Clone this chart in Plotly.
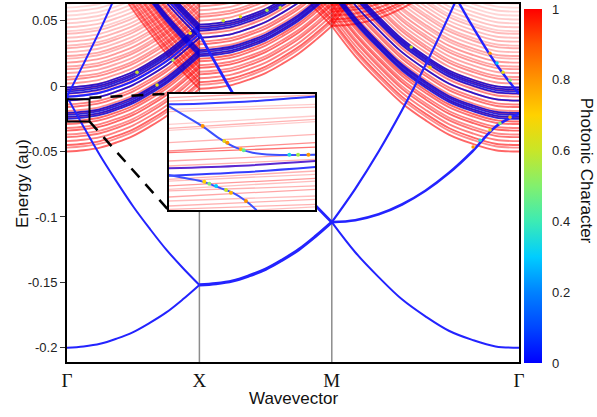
import plotly.graph_objects as go

# ---------------- k-path (Γ=0, X=1, M=2, Γ=2+√2) ----------------
K_TICKS = [0, 1, 2, 3.414]
K_LABELS = ["Γ", "X", "M", "Γ"]
K_GX = [0, 0.125, 0.25, 0.375, 0.5, 0.625, 0.75, 0.875, 1]
K_XM = [1, 1.125, 1.25, 1.375, 1.5, 1.625, 1.75, 1.875, 2]
K_MG = [2, 2.177, 2.354, 2.530, 2.707, 2.884, 3.061, 3.237, 3.414]

# ---------------- electronic bands (au) ----------------
B1_GX = [-0.200, -0.199, -0.197, -0.193, -0.188, -0.181, -0.173, -0.163, -0.152]
B1_XM = [-0.152, -0.151, -0.149, -0.145, -0.140, -0.133, -0.125, -0.115, -0.104]
B1_MG = [-0.104, -0.127, -0.146, -0.163, -0.176, -0.187, -0.194, -0.199, -0.200]
B2_GX = [-0.008, -0.031, -0.053, -0.073, -0.092, -0.109, -0.125, -0.139, -0.152]
B3_GX = [-0.008, 0.017, 0.043, 0.071]
B4_GX = [-0.008, -0.007, -0.005, -0.001, 0.004, 0.011, 0.019, 0.029, 0.040]
B5_GX = [0.067, 0.053, 0.040]
B6_XM = [0.040, 0.017, -0.005, -0.025, -0.044, -0.061, -0.077, -0.091, -0.104]
B8_MG = [-0.104, -0.1025, -0.098, -0.0905, -0.080, -0.0665, -0.050, -0.031, -0.021]
B9_MG = [-0.104, -0.0785, -0.050, -0.0185, 0.016, 0.0535, 0.094]
B10_MG = [0.0775, 0.046, 0.0175, -0.006]

# photon-replica offsets (red) and their opacities
RED_SHIFT = [0.150, 0.153, 0.155, 0.158, 0.161, 0.163, 0.166, 0.168, 0.171, 0.173,
             0.176, 0.179, 0.181, 0.184, 0.186, 0.189, 0.192, 0.194, 0.197, 0.199,
             0.202, 0.205, 0.207, 0.210, 0.213, 0.215, 0.218, 0.221, 0.223, 0.226,
             0.229, 0.231, 0.234, 0.237, 0.240, 0.242, 0.245, 0.248, 0.251, 0.254,
             0.257, 0.260, 0.263]
RED_ALPHA = [0.6, 0.45, 0.6, 0.5, 0.55, 0.45, 0.6, 0.5, 0.55, 0.6,
             0.5, 0.55, 0.45, 0.55, 0.5, 0.45, 0.5, 0.4, 0.5, 0.45,
             0.4, 0.45, 0.4, 0.35, 0.4, 0.35, 0.4, 0.3, 0.35, 0.28,
             0.33, 0.27, 0.3, 0.25, 0.27, 0.2, 0.24, 0.2, 0.2, 0.16,
             0.18, 0.15, 0.13]
# polariton (mostly electronic) replicas inside the photon continuum
BLUE_SHIFT = [0.175, 0.1765, 0.178, 0.1795, 0.189, 0.1945, 0.196, 0.1975, 0.199]

# photonic-character speckles on the main plot
SPK_K = [3.195, 3.248, 3.293, 3.346, 3.067, 3.120, 3.195, 3.270, 3.346,
         0.529, 0.680, 0.800, 0.930, 1.18, 1.31, 1.51, 1.61, 2.742, 2.60]
SPK_E = [0.0252, 0.0176, 0.0107, 0.0046, -0.0466, -0.0413, -0.0336, -0.0283, -0.0237,
         0.0107, 0.0008, 0.020, 0.0405, 0.050, 0.053, 0.058, 0.060, 0.0145, 0.030]
SPK_C = [0.8, 0.3, 0.65, 0.5, 0.8, 0.35, 0.65, 0.5, 0.75,
         0.6, 0.65, 0.55, 0.7, 0.6, 0.65, 0.55, 0.6, 0.7, 0.6]

# ---------------- inset (zoom near Γ) ----------------
INSET_XR = [0.0, 0.17]
INSET_YR = [-0.027, -0.010]
INS_RED_L = [-0.01058, -0.01107, -0.01228, -0.01262, -0.01447, -0.01505, -0.01534, -0.01714,
             -0.01835, -0.01860, -0.01981, -0.02054, -0.02248, -0.02273, -0.02345, -0.02394,
             -0.02418, -0.02506, -0.02564, -0.02637, -0.02685, -0.02760]
INS_RED_R = [-0.00961, -0.01019, -0.01155, -0.01194, -0.01325, -0.01374, -0.01408, -0.01593,
             -0.01714, -0.01780, -0.01884, -0.01957, -0.02127, -0.02175, -0.02234, -0.02273,
             -0.02345, -0.02394, -0.02491, -0.02540, -0.02613, -0.02650]
INS_RED_A = [0.35, 0.3, 0.2, 0.25, 0.2, 0.3, 0.2, 0.3, 0.45, 0.55, 0.35,
             0.3, 0.3, 0.25, 0.4, 0.25, 0.3, 0.35, 0.25, 0.3, 0.3, 0.25]
INS_A_K = [0, 0.0355, 0.0741, 0.1129, 0.1515, 0.17]
INS_A_E = [-0.01155, -0.01146, -0.01126, -0.01097, -0.01058, -0.01039]
INS_B_K = [0, 0.0201, 0.0394, 0.0587, 0.078, 0.0974, 0.1205, 0.17]
INS_B_E = [-0.0118, -0.0133, -0.01476, -0.01651, -0.01787, -0.0186, -0.01889, -0.01889]
INS_C_K = [0, 0.085, 0.17]
INS_C_E = [-0.02088, -0.02049, -0.01981]
INS_D_K = [0, 0.085, 0.17]
INS_D_E = [-0.02195, -0.02146, -0.02069]
INS_E_K = [0, 0.0201, 0.0394, 0.0587, 0.0741, 0.0896, 0.102]
INS_E_E = [-0.02185, -0.02234, -0.02282, -0.0237, -0.02443, -0.02564, -0.0270]
INS_SPK_K = [0.0394, 0.0645, 0.068, 0.0838, 0.087, 0.1399, 0.150, 0.162,
             0.0413, 0.0471, 0.0549, 0.0665, 0.0722, 0.0896]
INS_SPK_E = [-0.01471, -0.0169, -0.01715, -0.01811, -0.01825, -0.01889, -0.01889, -0.01889,
             -0.02282, -0.02311, -0.02345, -0.02404, -0.02443, -0.02564]
INS_SPK_C = [0.8, 0.65, 0.8, 0.75, 0.45, 0.35, 0.55, 0.8,
             0.7, 0.5, 0.3, 0.6, 0.75, 0.8]

COLORSCALE = [[0.0, "rgb(0,0,255)"], [0.1, "rgb(0,70,255)"], [0.2, "rgb(0,130,255)"],
              [0.3, "rgb(0,205,255)"], [0.4, "rgb(60,235,180)"], [0.5, "rgb(130,240,110)"],
              [0.6, "rgb(200,230,40)"], [0.7, "rgb(255,210,0)"], [0.8, "rgb(255,150,0)"],
              [0.9, "rgb(255,85,0)"], [1.0, "rgb(255,0,0)"]]
CB_TICKS = [0, 0.2, 0.4, 0.6, 0.8, 1]
CB_LABELS = ["0", "0.2", "0.4", "0.6", "0.8", "1"]
Y_TICKS = [-0.2, -0.15, -0.1, -0.05, 0, 0.05]
Y_LABELS = ["-0.2", "-0.15", "-0.1", "-0.05", "0", "0.05"]

Y_RANGE = [-0.2109, 0.0628]
X_RANGE = [K_TICKS[0], K_TICKS[-1]]
SANS = "Liberation Sans, Arial, sans-serif"
SERIF = "Liberation Serif, Times New Roman, serif"


def path(segments, shift=0.0):
    xs, ys = [], []
    for ks, es in segments:
        if xs:
            xs.append(None)
            ys.append(None)
        xs.extend(ks)
        ys.extend([e + shift for e in es])
    return xs, ys


REPLICA_SEGS = [(K_GX, B1_GX), (K_XM, B1_XM), (K_MG, B1_MG), (K_GX, B2_GX),
                (K_XM, B6_XM), (K_MG, B8_MG), (K_MG[:len(B9_MG)], B9_MG)]
POLARITON_SEGS = [(K_GX, B1_GX), (K_XM, B1_XM), (K_MG, B1_MG), (K_GX, B2_GX)]

fig = go.Figure()

# photon replicas (red)
for d, a in zip(RED_SHIFT, RED_ALPHA):
    xs, ys = path(REPLICA_SEGS, d)
    fig.add_trace(go.Scatter(x=xs, y=ys, mode="lines",
                             line=dict(color=f"rgba(255,0,0,{a})", width=1.9, shape="spline"),
                             hoverinfo="skip"))

# polaritonic replicas (blue bundles)
for d in BLUE_SHIFT:
    xs, ys = path(POLARITON_SEGS, d)
    fig.add_trace(go.Scatter(x=xs, y=ys, mode="lines",
                             line=dict(color="rgba(10,0,210,0.85)", width=1.8, shape="spline"),
                             hoverinfo="skip"))

# bare electronic bands
ELEC = [
    (K_GX, B1_GX, 2.0), (K_XM, B1_XM, 3.2), (K_MG, B1_MG, 2.0),
    (K_GX, B2_GX, 2.0), (K_GX[:len(B3_GX)], B3_GX, 2.0), (K_GX, B4_GX, 2.2),
    (K_GX[-len(B5_GX):], B5_GX, 2.0), (K_XM, B6_XM, 2.8), (K_MG, B8_MG, 2.6),
    (K_MG[:len(B9_MG)], B9_MG, 2.2), (K_MG[-len(B10_MG):], B10_MG, 2.4),
]
for ks, es, w in ELEC:
    fig.add_trace(go.Scatter(x=ks, y=es, mode="lines",
                             line=dict(color="rgb(35,35,255)", width=w, shape="spline"),
                             hoverinfo="skip"))

fig.add_trace(go.Scatter(x=SPK_K, y=SPK_E, mode="markers",
                         marker=dict(size=3.5, color=SPK_C, colorscale=COLORSCALE, cmin=0, cmax=1),
                         hoverinfo="skip"))

# colorbar carrier
fig.add_trace(go.Scatter(
    x=[None], y=[None], mode="markers",
    marker=dict(color=[0], colorscale=COLORSCALE, cmin=0, cmax=1, showscale=True,
                colorbar=dict(x=1.011, xanchor="left", y=-0.0028, yanchor="bottom", len=0.989,
                              thickness=18, outlinewidth=0, xpad=0, ypad=0,
                              tickmode="array", tickvals=CB_TICKS, ticktext=CB_LABELS,
                              ticklabeloverflow="allow",
                              ticks="outside", ticklen=8, tickcolor="rgba(0,0,0,0)",
                              tickfont=dict(family=SANS, size=13, color="#222"))),
    hoverinfo="skip"))

# ---------------- inset ----------------
fig.add_trace(go.Scatter(
    x=[INSET_XR[0], INSET_XR[1], INSET_XR[1], INSET_XR[0], INSET_XR[0]],
    y=[INSET_YR[0], INSET_YR[0], INSET_YR[1], INSET_YR[1], INSET_YR[0]],
    mode="lines", fill="toself", fillcolor="white", line=dict(width=0),
    xaxis="x2", yaxis="y2", hoverinfo="skip"))
for l, r, a in zip(INS_RED_L, INS_RED_R, INS_RED_A):
    fig.add_trace(go.Scatter(x=INSET_XR, y=[l, r], mode="lines",
                             line=dict(color=f"rgba(255,0,0,{a})", width=1.3),
                             xaxis="x2", yaxis="y2", hoverinfo="skip"))
for ks, es, col in [(INS_A_K, INS_A_E, "rgb(50,60,255)"), (INS_B_K, INS_B_E, "rgb(60,80,255)"),
                    (INS_C_K, INS_C_E, "rgb(90,40,210)"), (INS_D_K, INS_D_E, "rgb(50,60,255)"),
                    (INS_E_K, INS_E_E, "rgb(60,80,255)")]:
    fig.add_trace(go.Scatter(x=ks, y=es, mode="lines",
                             line=dict(color=col, width=2, shape="spline"),
                             xaxis="x2", yaxis="y2", hoverinfo="skip"))
fig.add_trace(go.Scatter(x=INS_SPK_K, y=INS_SPK_E, mode="markers",
                         marker=dict(size=4, color=INS_SPK_C, colorscale=COLORSCALE, cmin=0, cmax=1),
                         xaxis="x2", yaxis="y2", hoverinfo="skip"))

# ---------------- shapes ----------------
shapes = []
for k in K_TICKS[1:3]:
    shapes.append(dict(type="line", xref="x", yref="paper", x0=k, x1=k, y0=0, y1=1,
                       line=dict(color="rgb(140,140,140)", width=1.5), layer="below"))
shapes.append(dict(type="rect", xref="x", yref="y", x0=INSET_XR[0], x1=INSET_XR[1],
                   y0=INSET_YR[0], y1=INSET_YR[1], line=dict(color="black", width=2)))

IN_DOM_X = [0.225, 0.5493]
IN_DOM_Y = [0.4237, 0.7494]


def to_paper(k, e):
    return ((k - X_RANGE[0]) / (X_RANGE[1] - X_RANGE[0]),
            (e - Y_RANGE[0]) / (Y_RANGE[1] - Y_RANGE[0]))


bx1, by1 = to_paper(INSET_XR[1], INSET_YR[1])
bx2, by2 = to_paper(INSET_XR[1], INSET_YR[0])
shapes.append(dict(type="line", xref="paper", yref="paper", x0=bx1, y0=by1 + 0.004,
                   x1=IN_DOM_X[0], y1=IN_DOM_Y[1],
                   line=dict(color="black", width=2.5, dash="12px,9px")))
shapes.append(dict(type="line", xref="paper", yref="paper", x0=bx2, y0=by2,
                   x1=IN_DOM_X[0], y1=IN_DOM_Y[0],
                   line=dict(color="black", width=2.5, dash="12px,9px")))

annotations = [
    dict(text="Photonic Character", xref="paper", yref="paper", x=1.151, y=0.5335,
         xanchor="center", yanchor="middle", showarrow=False, textangle=90,
         font=dict(family=SANS, size=17, color="#111")),
    dict(text="Energy (au)", xref="paper", yref="paper", x=-0.0996, y=0.5,
         xanchor="center", yanchor="middle", showarrow=False, textangle=-90,
         font=dict(family=SANS, size=17, color="#111")),
    dict(text="Wavevector", xref="paper", yref="paper", x=0.5, y=-0.1006,
         xanchor="center", yanchor="middle", showarrow=False,
         font=dict(family=SANS, size=17, color="#111")),
]

fig.update_layout(
    width=597, height=417,
    margin=dict(l=67, r=78, t=4, b=55, autoexpand=False),
    paper_bgcolor="white", plot_bgcolor="white",
    showlegend=False,
    font=dict(family=SANS, color="#222"),
    shapes=shapes,
    annotations=annotations,
    xaxis=dict(range=X_RANGE, tickvals=K_TICKS, ticktext=K_LABELS, ticks="",
               tickfont=dict(family=SERIF, size=19, color="#111"), automargin=False,
               showline=True, mirror=True, linewidth=2, linecolor="black",
               showgrid=False, zeroline=False),
    yaxis=dict(range=Y_RANGE, tickvals=Y_TICKS, ticktext=Y_LABELS,
               ticks="outside", ticklen=5, tickwidth=1, tickcolor="#333", automargin=False,
               tickfont=dict(family=SANS, size=13, color="#222"),
               showline=True, mirror=True, linewidth=2, linecolor="black",
               showgrid=False, zeroline=False),
    xaxis2=dict(domain=IN_DOM_X, range=INSET_XR, anchor="y2", showticklabels=False,
                ticks="", showline=True, mirror=True, linewidth=2, linecolor="black",
                showgrid=False, zeroline=False),
    yaxis2=dict(domain=IN_DOM_Y, range=INSET_YR, anchor="x2", showticklabels=False,
                ticks="", showline=True, mirror=True, linewidth=2, linecolor="black",
                showgrid=False, zeroline=False),
)

fig.write_html("out.html", config={"displayModeBar": False},
               post_script="document.body.style.margin='0';")
